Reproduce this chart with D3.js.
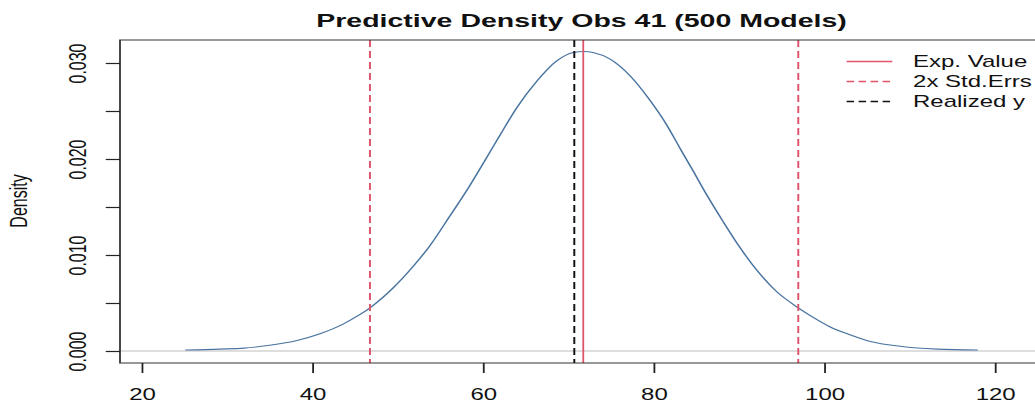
<!DOCTYPE html>
<html>
<head>
<meta charset="utf-8">
<script src="https://cdn.jsdelivr.net/npm/d3@7"></script>
<style>
  body { margin: 0; background: #fff; }
  svg { display: block; }
  text { font-family: "Liberation Sans", Arial, sans-serif; fill: #111; }
</style>
</head>
<body>
<div id="chart"></div>
<script>
// density curve (x value, density)
const densityX = [25.1, 29.2, 32.0, 35.0, 38.2, 40.9, 43.6, 45.2, 46.75, 49.5, 51.8,
  53.8, 56.0, 58.5, 60.4, 62.0, 64.0, 66.3, 68.6, 70.6, 71.8, 72.9, 74.9, 77.2,
  79.5, 81.5, 83.1, 84.6, 86.2, 88.2, 90.1, 92.1, 94.4, 96.95, 98.7, 100.7, 103.0,
  105.4, 108.9, 113.2, 118.0];
const densityY = [0.0001, 0.0002, 0.0003, 0.0006, 0.0011, 0.0018, 0.0028, 0.0036,
  0.0045, 0.0066, 0.0088, 0.0110, 0.0139, 0.0173, 0.0201, 0.0225, 0.0254, 0.0281,
  0.0302, 0.0311, 0.0312, 0.0311, 0.0304, 0.0287, 0.0262, 0.0236, 0.0211, 0.0188,
  0.0163, 0.0134, 0.0108, 0.0084, 0.0062, 0.0045, 0.0035, 0.0025, 0.0017, 0.0010,
  0.0005, 0.0002, 0.0001];

const expValue = 71.75;
const stdErrBounds = [46.75, 96.95];
const realizedY = 70.7;

const xTicks = [20, 40, 60, 80, 100, 120];
const yTicks = [0, 0.005, 0.010, 0.015, 0.020, 0.025, 0.030];
const yTickLabels = ["0.000", "", "0.010", "", "0.020", "", "0.030"];

const legendLabels = ["Exp. Value", "2x Std.Errs", "Realized y"];

// the reference is a horizontally stretched R plot: draw at 690 wide, stretch to 1035
const W = 690, H = 406;
const red = "#DF536B", curveCol = "#4a74a0";

const svg = d3.select("#chart").append("svg")
  .attr("width", 1035).attr("height", H)
  .attr("viewBox", `0 0 ${W} ${H}`)
  .attr("preserveAspectRatio", "none");

const box = { left: 80, top: 40, bottom: 363, right: 700 };

const x = d3.scaleLinear().domain([20, 120]).range([94.47, 663.3]);
const y = d3.scaleLinear().domain([0, 0.03]).range([351, 63]);

// zero line
svg.append("line")
  .attr("x1", box.left).attr("x2", box.right)
  .attr("y1", y(0)).attr("y2", y(0))
  .attr("stroke", "#bdbdbd").attr("stroke-width", 1.2);

// density
const pts = densityX.map((d, i) => [d, densityY[i]]);
svg.append("path")
  .datum(pts)
  .attr("fill", "none")
  .attr("stroke", curveCol)
  .attr("stroke-width", 1.1)
  .attr("d", d3.line().x(d => x(d[0])).y(d => y(d[1])).curve(d3.curveMonotoneX));

// vertical reference lines
svg.selectAll(".se").data(stdErrBounds).enter().append("line")
  .attr("x1", d => x(d)).attr("x2", d => x(d))
  .attr("y1", box.top).attr("y2", box.bottom)
  .attr("stroke", red).attr("stroke-width", 1.3)
  .attr("stroke-dasharray", "7,4");

svg.append("line")
  .attr("x1", x(realizedY)).attr("x2", x(realizedY))
  .attr("y1", box.top).attr("y2", box.bottom)
  .attr("stroke", "#111").attr("stroke-width", 1.3)
  .attr("stroke-dasharray", "7,4");

svg.append("line")
  .attr("x1", x(expValue)).attr("x2", x(expValue))
  .attr("y1", box.top).attr("y2", box.bottom)
  .attr("stroke", red).attr("stroke-width", 1.2);

// box
svg.append("path")
  .attr("d", `M${box.right},${box.top}H${box.left}V${box.bottom}H${box.right}`)
  .attr("fill", "none").attr("stroke", "#333").attr("stroke-width", 1.2);

// x axis
const xAxis = svg.append("g").attr("transform", `translate(0,${box.bottom})`)
  .call(d3.axisBottom(x).tickValues(xTicks).tickSize(10).tickPadding(0)
    .tickFormat(d3.format("d")));
xAxis.select(".domain").remove();
xAxis.selectAll(".tick line").attr("stroke", "#222").attr("stroke-width", 1.2);
xAxis.selectAll(".tick text").attr("y", 37).attr("dy", null)
  .attr("font-size", 16).attr("fill", "#111");

// y axis
const yAxis = svg.append("g").attr("transform", `translate(${box.left},0)`)
  .call(d3.axisLeft(y).tickValues(yTicks).tickSize(9.5)
    .tickFormat((d, i) => yTickLabels[i]));
yAxis.select(".domain").remove();
yAxis.selectAll(".tick line").attr("stroke", "#222").attr("stroke-width", 1.2);
yAxis.selectAll(".tick text")
  .attr("x", null).attr("dy", null)
  .attr("text-anchor", "middle")
  .attr("font-size", 16).attr("fill", "#111")
  .attr("transform", "translate(-22.5,0) rotate(-90)");

// labels
svg.append("text")
  .attr("text-anchor", "middle")
  .attr("transform", "translate(18.2,201) rotate(-90)")
  .attr("font-size", 16)
  .text("Density");

svg.append("text")
  .attr("x", 387.7).attr("y", 27)
  .attr("text-anchor", "middle")
  .attr("font-size", 19).attr("font-weight", "bold")
  .text("Predictive Density Obs 41 (500 Models)");

// legend
const legend = svg.append("g").attr("transform", "translate(564.4,61.5)");
const legendStyle = [
  { col: red, dash: null },
  { col: red, dash: "5,3" },
  { col: "#111", dash: "5,3" }
];
legendLabels.forEach((lab, i) => {
  const g = legend.append("g").attr("transform", `translate(0,${i * 20})`);
  g.append("line").attr("x1", 0).attr("x2", 30.5)
    .attr("stroke", legendStyle[i].col).attr("stroke-width", 1.6)
    .attr("stroke-dasharray", legendStyle[i].dash);
  g.append("text").attr("x", 44.3).attr("y", 5.8)
    .attr("font-size", 16).text(lab);
});
</script>
</body>
</html>
